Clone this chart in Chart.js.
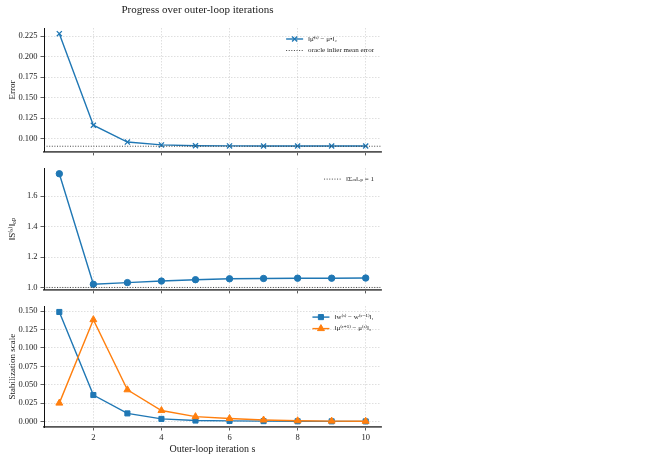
<!DOCTYPE html>
<html>
<head>
<meta charset="utf-8">
<script src="https://cdn.jsdelivr.net/npm/chart.js@4.4.1/dist/chart.umd.min.js"></script>
<style>
  html, body { margin: 0; padding: 0; background: #fff; }
  #wrap { position: relative; width: 666px; height: 476px; }
  canvas { position: absolute; left: 0; }
</style>
</head>
<body>
<div id="wrap">
  <canvas id="errorChart" width="395" height="160" style="top:0px"></canvas>
  <canvas id="scaleChart" width="395" height="138" style="top:160px"></canvas>
  <canvas id="stabChart" width="395" height="160" style="top:298px"></canvas>
</div>
<script>
// outer-loop iterations
const iterations = [1, 2, 3, 4, 5, 6, 7, 8, 9, 10];
const xTicks = [2, 4, 6, 8, 10];
const xMin = 0.55, xMax = 10.45;

// panel 1: mean error
const meanError = [0.228, 0.1165, 0.096, 0.0925, 0.0915, 0.0913, 0.0912, 0.0912, 0.0912, 0.0912];
const oracleError = 0.0909;
const errorTicks = [0.100, 0.125, 0.150, 0.175, 0.200, 0.225];

// panel 2: operator norm of S
const opNorm = [1.747, 1.021, 1.032, 1.042, 1.051, 1.057, 1.059, 1.061, 1.061, 1.062];
const opNormRef = 1.0;
const opNormTicks = [1.0, 1.2, 1.4, 1.6];

// panel 3: stabilization
const weightStep = [0.149, 0.036, 0.011, 0.0035, 0.0013, 0.0008, 0.0005, 0.0003, 0.0002, 0.0001];
const meanStep = [0.025, 0.1385, 0.0431, 0.0149, 0.0066, 0.004, 0.002, 0.001, 0.0005, 0.0003];
const stabTicks = [0.000, 0.025, 0.050, 0.075, 0.100, 0.125, 0.150];

const BLUE = "#1f77b4";
const ORANGE = "#ff7f0e";
const FONT = "'Liberation Serif', 'DejaVu Serif', serif";

Chart.defaults.font.family = FONT;
Chart.defaults.color = "#222";
Chart.defaults.animation = false;

function pts(ys) {
    return iterations.map((x, i) => ({ x: x, y: ys[i] }));
}

// small legend in the upper right of the plot, matplotlib style
const cornerLegend = {
    id: "cornerLegend",
    afterDraw(chart) {
        const ctx = chart.ctx;
        const area = chart.chartArea;
        const items = chart.data.datasets;
        ctx.save();
        ctx.font = "7px " + FONT;
        const textW = Math.max(...items.map(d => ctx.measureText(d.label).width));
        const sampleW = 17, gap = 5, rowH = 11.5;
        const x0 = area.right - 7 - textW - gap - sampleW;
        items.forEach((d, i) => {
            const y = area.top + 11 + i * rowH;
            ctx.strokeStyle = d.borderColor;
            ctx.lineWidth = d.borderWidth;
            ctx.setLineDash(d.borderDash || []);
            ctx.beginPath();
            ctx.moveTo(x0, y);
            ctx.lineTo(x0 + sampleW, y);
            ctx.stroke();
            ctx.setLineDash([]);
            if (d.pointRadius > 0) {
                ctx.fillStyle = d.pointBackgroundColor;
                ctx.strokeStyle = d.borderColor;
                ctx.lineWidth = d.pointBorderWidth || 1;
                Chart.helpers.drawPoint(ctx, {
                    pointStyle: d.pointStyle, radius: d.pointRadius,
                    rotation: 0, borderWidth: d.pointBorderWidth || 1
                }, x0 + sampleW / 2, y);
            }
            ctx.fillStyle = "#222";
            ctx.textBaseline = "middle";
            ctx.textAlign = "left";
            ctx.fillText(d.label, x0 + sampleW + gap, y);
        });
        ctx.restore();
    }
};

// figure title, centred on the whole figure like a suptitle
const figTitle = {
    id: "figTitle",
    afterDraw(chart) {
        const ctx = chart.ctx;
        ctx.save();
        ctx.font = "11px " + FONT;
        ctx.fillStyle = "#222";
        ctx.textAlign = "center";
        ctx.textBaseline = "middle";
        ctx.fillText("Progress over outer-loop iterations", chart.width / 2, 10);
        ctx.restore();
    }
};

function xScale(showLabels) {
    return {
        type: "linear",
        min: xMin,
        max: xMax,
        afterBuildTicks: s => { s.ticks = xTicks.map(v => ({ value: v })); },
        afterFit: s => { s.height = showLabels ? 31 : 7; },
        ticks: { display: showLabels, padding: 2, font: { size: 8.5 }, callback: v => String(v) },
        grid: {
            color: "rgba(0,0,0,0.16)", lineWidth: 0.8,
            tickLength: 3.5, tickColor: "#333", tickWidth: 0.8, tickBorderDash: []
        },
        border: { color: "#555", width: 1.8, dash: [1.5, 1.5] },
        title: {
            display: showLabels, text: "Outer-loop iteration s",
            font: { size: 10 }, padding: { top: 2, bottom: 3 }
        }
    };
}

function yScale(min, max, tickList, digits, label) {
    return {
        type: "linear",
        min: min,
        max: max,
        afterBuildTicks: s => { s.ticks = tickList.map(v => ({ value: v })); },
        afterFit: s => { s.width = 44; },
        ticks: { padding: 3, font: { size: 8.5 }, callback: v => v.toFixed(digits) },
        grid: {
            color: "rgba(0,0,0,0.16)", lineWidth: 0.8,
            tickLength: 3.5, tickColor: "#333", tickWidth: 0.8, tickBorderDash: []
        },
        border: { color: "#111", width: 1, dash: [1.5, 1.5] },
        title: { display: true, text: label, font: { size: 9 }, padding: { top: 7, bottom: 7 } }
    };
}

function refLine(label, yv) {
    return {
        label: label,
        data: [{ x: xMin, y: yv }, { x: xMax, y: yv }],
        borderColor: "#333",
        borderWidth: 0.9,
        borderDash: [1, 1.6],
        pointRadius: 0,
        order: 0
    };
}

function series(label, ys, color, style, radius) {
    return {
        label: label,
        data: pts(ys),
        borderColor: color,
        backgroundColor: color,
        pointBackgroundColor: color,
        pointBorderColor: color,
        pointBorderWidth: style === "crossRot" ? 1.3 : 1,
        pointStyle: style,
        pointRadius: radius,
        borderWidth: 1.4,
        order: 1
    };
}

const commonPlugins = {
    legend: { display: false },
    tooltip: { enabled: false }
};

new Chart(document.getElementById("errorChart"), {
    type: "line",
    data: {
        datasets: [
            series("‖μ̂⁽ˢ⁾ − μ•‖₂", meanError, BLUE, "crossRot", 3.6),
            refLine("oracle inlier mean error", oracleError)
        ]
    },
    options: {
        responsive: false,
        layout: { padding: { left: 0, right: 14, top: 28, bottom: 0 } },
        plugins: commonPlugins,
        scales: {
            x: xScale(false),
            y: yScale(0.0840, 0.2349, errorTicks, 3, "Error")
        }
    },
    plugins: [cornerLegend, figTitle]
});

new Chart(document.getElementById("scaleChart"), {
    type: "line",
    data: {
        datasets: [
            refLine("‖Σᵢₙ‖ₒₚ = 1", opNormRef),
            Object.assign(series("‖S⁽ˢ⁾‖ₒₚ", opNorm, BLUE, "circle", 3.2), { hideLegend: true })
        ]
    },
    options: {
        responsive: false,
        layout: { padding: { left: 0, right: 14, top: 5, bottom: 0 } },
        plugins: commonPlugins,
        scales: {
            x: xScale(false),
            y: yScale(0.984, 1.784, opNormTicks, 1, "‖S⁽ˢ⁾‖ₒₚ")
        }
    },
    plugins: [{
        id: "cornerLegendRef",
        afterDraw(chart) {
            // only the reference line gets a legend entry here
            const saved = chart.data.datasets;
            chart.data.datasets = saved.filter(d => !d.hideLegend);
            cornerLegend.afterDraw(chart);
            chart.data.datasets = saved;
        }
    }]
});

new Chart(document.getElementById("stabChart"), {
    type: "line",
    data: {
        datasets: [
            Object.assign(series("‖w⁽ˢ⁾ − w⁽ˢ⁻¹⁾‖₁", weightStep, BLUE, "rect", 3.6), { order: 2 }),
            Object.assign(series("‖μ⁽ˢ⁺¹⁾ − μ⁽ˢ⁾‖₂", meanStep, ORANGE, "triangle", 4), { order: 1 })
        ]
    },
    options: {
        responsive: false,
        layout: { padding: { left: 0, right: 14, top: 4, bottom: 0 } },
        plugins: commonPlugins,
        scales: {
            x: xScale(true),
            y: yScale(-0.0075, 0.157, stabTicks, 3, "Stabilization scale")
        }
    },
    plugins: [cornerLegend]
});
</script>
</body>
</html>
